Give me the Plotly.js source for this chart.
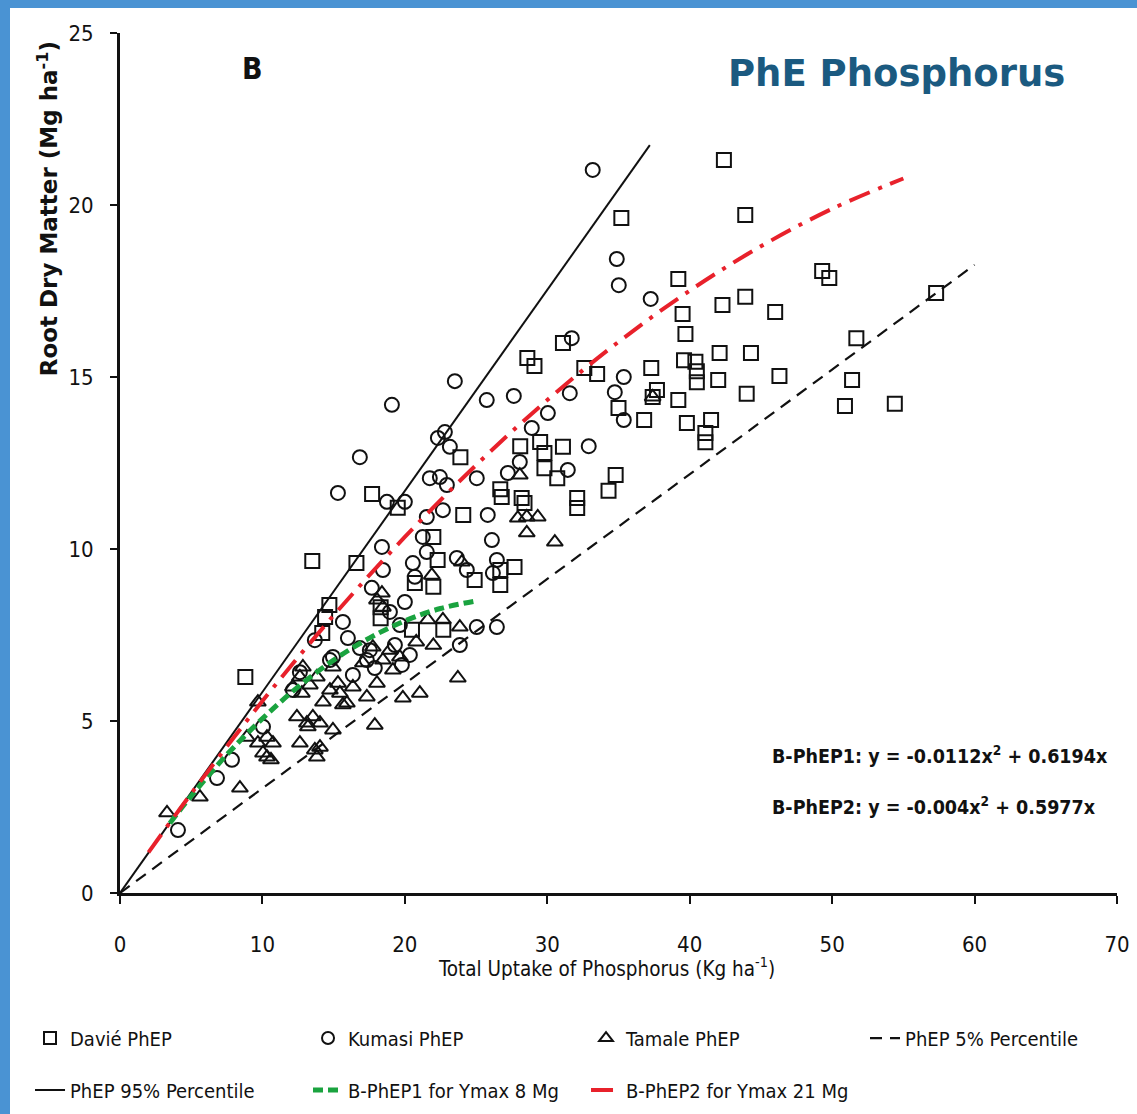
<!DOCTYPE html>
<html>
<head>
<meta charset="utf-8">
<script src="https://cdn.plot.ly/plotly-3.0.1.min.js"></script>
<style>
  html, body { margin: 0; padding: 0; background: #ffffff; }
  #wrap { position: relative; width: 1137px; height: 1114px; }
  #chart { position: absolute; left: 0; top: 0; width: 1137px; height: 1114px; }
  .bar-top { position: absolute; left: 0; top: 0; width: 1137px; height: 8px; background: #4a93d3; }
  .bar-left { position: absolute; left: 0; top: 0; width: 10px; height: 1114px; background: #4a93d3; }
</style>
</head>
<body>
<div id="wrap">
  <div id="chart"></div>
  <div class="bar-top"></div>
  <div class="bar-left"></div>
</div>
<script>
// ---- Data ----
const davieX = [8.8,13.5,14.7,14.2,14.4,16.6,17.7,19.5,18.3,18.3,22.0,22.3,22.0,20.7,20.5,22.7,23.9,24.1,24.9,26.7,26.7,27.7,26.7,26.8,28.2,28.4,28.1,29.5,29.8,31.1,29.8,30.7,32.1,32.1,28.6,29.1,31.1,32.6,33.5,34.3,34.8,35.0,35.2,36.8,37.3,37.4,37.7,39.2,39.2,39.5,39.7,39.6,39.8,40.4,40.5,40.5,41.1,41.1,41.5,42.0,42.1,42.3,42.4,43.9,43.9,44.0,44.3,46.0,46.3,49.3,49.8,50.9,51.4,51.7,54.4,57.3];
const davieY = [6.28,9.65,8.37,7.56,8.02,9.59,11.6,11.2,8.31,7.99,10.35,9.68,8.9,9.01,7.65,7.65,12.67,10.99,9.1,8.95,9.39,9.48,11.74,11.51,11.48,11.34,12.99,13.11,12.79,12.97,12.35,12.06,11.48,11.19,15.55,15.32,15.99,15.26,15.09,11.69,12.15,14.1,19.62,13.75,15.26,14.42,14.62,14.33,17.85,16.83,16.25,15.49,13.66,15.44,15.17,14.85,13.37,13.1,13.75,14.91,15.7,17.09,21.31,19.71,17.33,14.51,15.7,16.89,15.03,18.08,17.88,14.16,14.91,16.13,14.22,17.44];

const kumasiX = [4.07,6.81,7.86,10.04,13.68,15.65,16.0,14.74,16.35,17.33,17.68,18.46,18.39,15.3,16.84,19.09,18.74,20.0,21.26,20.56,20.0,21.75,22.46,21.54,22.67,22.81,22.32,23.16,23.51,25.75,27.65,30.04,28.91,31.58,32.91,34.74,35.37,35.37,31.44,28.07,27.23,25.05,22.95,26.11,25.82,23.65,24.35,26.46,26.18,25.05,26.46,23.86,21.54,20.7,31.72,33.19,34.88,35.02,37.26,14.95,18.95,19.65,19.3,17.54,17.89,19.79,20.35,16.84,12.63,12.14];
const kumasiY = [1.83,3.34,3.87,4.83,7.35,7.88,7.41,6.77,6.34,6.77,8.87,9.39,10.06,11.63,12.67,14.19,11.37,11.37,10.35,9.59,8.46,12.06,12.09,10.93,11.13,13.4,13.23,12.97,14.88,14.33,14.45,13.95,13.52,14.53,12.99,14.56,15.0,13.75,12.3,12.53,12.21,12.06,11.86,10.26,10.99,9.74,9.39,9.68,9.3,7.73,7.73,7.21,9.91,9.19,16.13,21.02,18.43,17.67,17.27,6.86,8.17,7.79,7.21,7.06,6.54,6.63,6.92,7.12,6.42,5.9];

const tamaleX = [3.3,5.61,8.42,9.68,10.32,10.04,9.68,10.74,10.32,8.91,10.6,12.63,13.68,12.42,13.54,13.12,14.04,14.95,14.25,12.63,12.84,12.14,13.82,14.74,15.44,15.93,16.35,17.33,17.89,18.04,18.46,18.95,17.75,18.04,18.46,19.16,19.86,21.05,23.72,21.89,24.0,22.67,23.86,21.61,19.65,18.39,13.19,14.04,13.82,15.65,17.05,14.95,15.3,13.33,12.77,20.8,22.0,28.07,27.93,28.56,29.33,28.56,30.53,37.4];
const tamaleY = [2.33,2.79,3.05,5.55,4.53,4.07,4.36,4.36,3.95,4.53,3.87,4.36,4.16,5.12,5.12,4.94,4.94,4.74,5.55,6.28,6.57,5.99,6.28,5.9,5.81,5.52,5.99,5.7,4.88,6.1,6.77,7.06,7.15,8.52,8.31,6.48,5.67,5.81,6.25,9.24,9.62,7.94,7.73,7.94,6.86,8.72,4.83,4.24,3.95,5.47,6.69,6.57,6.1,6.05,5.81,7.3,7.2,12.15,10.9,10.93,10.93,10.47,10.2,14.42];

// Percentile lines
const p5X = [0, 60];
const p5Y = [0, 18.26];
const p95X = [0, 37.2];
const p95Y = [0, 21.74];

// Boundary curves (B-PhEP1: y = -0.0112x^2 + 0.6194x ; B-PhEP2: y = -0.004x^2 + 0.5977x)
const phep1X = [3.5, 5, 7.5, 10, 12.5, 15, 17.5, 20, 22.5, 25];
const phep1Y = [2.03, 2.82, 4.02, 5.07, 5.99, 6.77, 7.41, 7.91, 8.27, 8.49];
const phep2X = [2, 5, 10, 15, 20, 25, 30, 35, 40, 45, 50, 55];
const phep2Y = [1.18, 2.89, 5.58, 8.07, 10.35, 12.44, 14.33, 16.02, 17.51, 18.80, 19.89, 20.77];

// Text
const xTitle = 'Total Uptake of Phosphorus (Kg ha<sup>-1</sup>)';
const yTitle = 'Root Dry Matter (Mg ha<sup>-1</sup>)';
const eq1 = 'B-PhEP1: y = -0.0112x<sup>2</sup> + 0.6194x';
const eq2 = 'B-PhEP2: y = -0.004x<sup>2</sup> + 0.5977x';

const NARROW = '"Liberation Sans Narrow", "Arial Narrow", "DejaVu Sans Condensed", sans-serif';
const WIDE = '"DejaVu Sans", Verdana, sans-serif';

const mk = (sym) => ({ symbol: sym, size: 14, color: '#111', line: { color: '#111', width: 2 } });

const traces = [
  { x: davieX, y: davieY, type: 'scatter', mode: 'markers', name: 'Davié PhEP', marker: mk('square-open'), legend: 'legend' },
  { x: kumasiX, y: kumasiY, type: 'scatter', mode: 'markers', name: 'Kumasi PhEP', marker: mk('circle-open'), legend: 'legend' },
  { x: tamaleX, y: tamaleY, type: 'scatter', mode: 'markers', name: 'Tamale PhEP', marker: mk('triangle-up-open'), legend: 'legend' },
  { x: p5X, y: p5Y, type: 'scatter', mode: 'lines', name: 'PhEP 5% Percentile', line: { color: '#111', width: 2.2, dash: '12px,8px' }, legend: 'legend3' },
  { x: p95X, y: p95Y, type: 'scatter', mode: 'lines', name: 'PhEP 95% Percentile', line: { color: '#111', width: 2 }, legend: 'legend2' },
  { x: phep1X, y: phep1Y, type: 'scatter', mode: 'lines', line: { shape: 'spline', color: '#1aa33f', width: 5, dash: '10px,5px' }, name: 'B-PhEP1 for Ymax 8 Mg', legend: 'legend2' },
  { x: phep2X, y: phep2Y, type: 'scatter', mode: 'lines', line: { shape: 'spline', color: '#e8212b', width: 4, dash: '22px,9px,4px,9px' }, name: 'B-PhEP2 for Ymax 21 Mg', legend: 'legend2' }
];

const legendFont = { family: NARROW, size: 20, color: '#111' };

const layout = {
  width: 1137, height: 1114,
  margin: { l: 120, r: 20, t: 33, b: 221, autoexpand: false },
  paper_bgcolor: '#ffffff', plot_bgcolor: '#ffffff',
  font: { family: NARROW, color: '#111', size: 22 },
  xaxis: {
    range: [0, 70], dtick: 10, tick0: 0,
    showline: true, linecolor: '#111', linewidth: 3,
    ticks: 'outside', ticklen: 8, tickwidth: 2, tickcolor: '#111',
    showgrid: false, zeroline: false,
    ticklabelstandoff: 22,
    tickfont: { family: NARROW, size: 22, color: '#111' }
  },
  yaxis: {
    range: [0, 25], dtick: 5, tick0: 0,
    showline: true, linecolor: '#111', linewidth: 3,
    ticks: 'outside', ticklen: 7, tickwidth: 2, tickcolor: '#111',
    showgrid: false, zeroline: false,
    ticklabelstandoff: 12,
    tickfont: { family: NARROW, size: 22, color: '#111' }
  },
  showlegend: true,
  legend: {
    orientation: 'h', x: 0.0264, y: 0.0682, xanchor: 'left', yanchor: 'middle', xref: 'container', yref: 'container',
    entrywidth: 233, entrywidthmode: 'pixels',
    font: legendFont, bgcolor: 'rgba(0,0,0,0)', itemsizing: 'constant'
  },
  legend3: {
    orientation: 'h', x: 0.7608, y: 0.0682, xanchor: 'left', yanchor: 'middle', xref: 'container', yref: 'container',
    font: legendFont, bgcolor: 'rgba(0,0,0,0)'
  },
  legend2: {
    orientation: 'h', x: 0.0264, y: 0.0215, xanchor: 'left', yanchor: 'middle', xref: 'container', yref: 'container',
    entrywidth: 233, entrywidthmode: 'pixels',
    font: legendFont, bgcolor: 'rgba(0,0,0,0)'
  },
  annotations: [
    { text: yTitle, xref: 'paper', yref: 'paper', x: -0.0722, y: 0.795, textangle: -90, showarrow: false,
      xanchor: 'center', yanchor: 'middle', font: { family: WIDE, size: 23, color: '#111', weight: 'bold' } },
    { text: xTitle, xref: 'paper', yref: 'paper', x: 0.4875, y: -0.0872, showarrow: false,
      xanchor: 'center', yanchor: 'middle', font: { family: NARROW, size: 20.5, color: '#111' } },
    { text: '<b>B</b>', xref: 'paper', yref: 'paper', x: 0.1334, y: 0.959, showarrow: false,
      xanchor: 'center', yanchor: 'middle', font: { family: NARROW, size: 30, color: '#111' } },
    { text: '<b>PhE Phosphorus</b>', xref: 'paper', yref: 'paper', x: 0.779, y: 0.953, showarrow: false,
      xanchor: 'center', yanchor: 'middle', font: { family: WIDE, size: 37, color: '#1b5a80' } },
    { text: '<b>' + eq1 + '</b>', xref: 'paper', yref: 'paper', x: 0.652, y: 0.1605, showarrow: false,
      xanchor: 'left', yanchor: 'middle', font: { family: NARROW, size: 19.5, color: '#111' } },
    { text: '<b>' + eq2 + '</b>', xref: 'paper', yref: 'paper', x: 0.652, y: 0.101, showarrow: false,
      xanchor: 'left', yanchor: 'middle', font: { family: NARROW, size: 19.5, color: '#111' } }
  ]
};

Plotly.newPlot('chart', traces, layout, { displayModeBar: false, staticPlot: true });
</script>
</body>
</html>
